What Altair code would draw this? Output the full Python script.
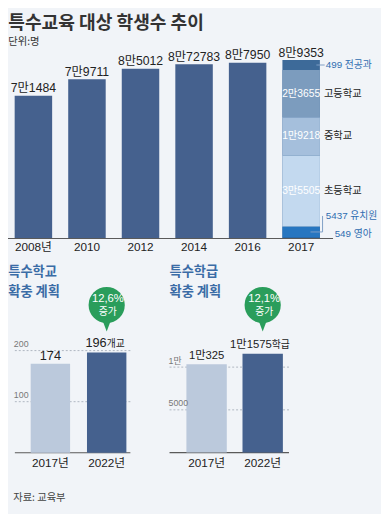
import altair as alt
import pandas as pd

# ---------------- data ----------------
years = ["2008", "2010", "2012", "2014", "2016", "2017"]
year_labels = ["2008년", "2010", "2012", "2014", "2016", "2017"]
totals = [71484, 79711, 85012, 87278, 87950, 89353]
total_labels = ["7만1484", "7만9711", "8만5012", "8만72783", "8만7950", "8만9353"]

seg_names = ["영아", "유치원", "초등학교", "중학교", "고등학교", "전공과"]
seg_values = [549, 5437, 35505, 19218, 23655, 499]
seg_value_labels = ["549", "5437", "3만5505", "1만9218", "2만3655", "499"]
inner_names = ["초등학교", "중학교", "고등학교"]

plan_years = ["2017", "2022"]
plan_year_labels = ["2017년", "2022년"]

schools = [174, 196]
school_labels = ["174", "196"]
school_unit = "개교"
school_growth = "12,6%"
school_ticks = [100, 200]
school_tick_labels = ["100", "200"]

classes = [10325, 11575]
class_labels = ["1만325", "1만1575"]
class_unit = "학급"
class_growth = "12,1%"
class_ticks = [5000, 10000]
class_tick_labels = ["5000", "1만"]

# ---------------- style ----------------
FONT_N = "Liberation Sans Narrow, Liberation Sans, Noto Sans CJK KR, sans-serif"
FONT_K = "Noto Sans CJK KR, sans-serif"
BG = "#f1f4f8"
C_BAR = "#45618e"
C_MAJOR = "#3d6a99"
SEG_COLORS = ["#1d4f8c", "#2776c0", "#c3d9ef", "#a5bfdc", "#7c9cbe", "#3d6a99"]
C_LIGHT = "#bbc9dc"
C_GREEN = "#2a9d5b"
C_BLUE_TXT = "#2f6db0"
C_TITLE2 = "#3b6ca6"
C_TXT = "#222222"
C_LEAD = "#7f9fc6"

# ---------------- top chart ----------------
sx_top = alt.Scale(domain=years, range=[-1.4, 326.8], paddingInner=0.3, paddingOuter=0.15)
sy_top = alt.Scale(domain=[0, 100000], range=[230, 26], nice=False, zero=True)
Xt = alt.X("yr:N", scale=sx_top, axis=None)


def Yt(f):
    return alt.Y(f"{f}:Q", scale=sy_top, axis=None)


df_top = pd.DataFrame({"yr": years, "lab": year_labels, "v": totals, "t": total_labels})

seg_df = pd.DataFrame({"seg": seg_names, "v": seg_values, "t": seg_value_labels})
seg_df["yr"] = "2017"
seg_df["hi"] = seg_df["v"].cumsum()
seg_df["lo"] = seg_df["hi"] - seg_df["v"]
seg_df["mid"] = (seg_df["lo"] + seg_df["hi"]) / 2
seg_df["ann"] = seg_df["t"] + " " + seg_df["seg"]

major_df = pd.DataFrame({
    "yr": ["2017"],
    "mid": [(seg_df["hi"].iloc[4] + totals[-1]) / 2],
    "ann": [f"{seg_value_labels[5]} {seg_names[5]}"],
})

top_base = alt.Chart(pd.DataFrame({"v": [0]})).mark_rule(color="#5a5a5a", strokeWidth=1.2).encode(
    y=Yt("v"), x=alt.value(0), x2=alt.value(332))
top_bars = alt.Chart(df_top).mark_bar().encode(
    x=Xt, y=Yt("v"),
    color=alt.condition("datum.yr == '2017'", alt.value(C_MAJOR), alt.value(C_BAR)))
seg_bars = alt.Chart(seg_df).transform_filter(
    alt.FieldOneOfPredicate(field="seg", oneOf=seg_names[:5])
).mark_bar().encode(
    x=Xt, y=Yt("lo"), y2="hi:Q",
    color=alt.Color("seg:N", scale=alt.Scale(domain=seg_names, range=SEG_COLORS), legend=None))
top_vals = alt.Chart(df_top).mark_text(font=FONT_N, fontSize=12.5, baseline="alphabetic", dy=-3.5,
                                       color=C_TXT).encode(x=Xt, y=Yt("v"), text="t:N")
top_xlab = alt.Chart(df_top).mark_text(font=FONT_N, fontSize=12, baseline="middle", color=C_TXT).encode(
    x=Xt, y=alt.value(238.7), text="lab:N")
inner = alt.Chart(seg_df).transform_filter(alt.FieldOneOfPredicate(field="seg", oneOf=inner_names))
seg_in = inner.mark_text(font=FONT_N, fontSize=10.5, color="#ffffff", baseline="middle").encode(
    x=Xt, y=Yt("mid"), text="t:N")
seg_nm = inner.mark_text(font=FONT_K, fontSize=10.5, align="left", dx=23.2, baseline="middle",
                         color=C_TXT).encode(x=Xt, y=Yt("mid"), text="seg:N")

ann_major = alt.Chart(major_df).mark_text(font=FONT_N, fontSize=10, align="left", dx=25.2, baseline="middle",
                                          color=C_BLUE_TXT).encode(x=Xt, y=Yt("mid"), text="ann:N")
lead_major = alt.Chart(major_df).mark_rule(color=C_LEAD, strokeWidth=1).encode(
    y=Yt("mid"), x=alt.value(315), x2=alt.value(323.5))
kinder = alt.Chart(seg_df).transform_filter(alt.FieldEqualPredicate(field="seg", equal="유치원"))
ann_kinder = kinder.mark_text(font=FONT_N, fontSize=10, align="left", dx=25.2, dy=-16.3, baseline="middle",
                              color=C_BLUE_TXT).encode(x=Xt, y=Yt("mid"), text="ann:N")
lead_kinder_h = kinder.mark_rule(color=C_LEAD, strokeWidth=1).encode(
    y=Yt("mid"), x=alt.value(309), x2=alt.value(321.3))
lead_kinder_v = kinder.mark_rule(color=C_LEAD, strokeWidth=1).encode(
    y=Yt("mid"), y2=alt.value(207), x=alt.value(321.3))
infant = alt.Chart(seg_df).transform_filter(alt.FieldEqualPredicate(field="seg", equal="영아"))
ann_infant = infant.mark_text(font=FONT_N, fontSize=10, align="left", dx=34.2, dy=-4, baseline="middle",
                              color=C_BLUE_TXT).encode(x=Xt, y=Yt("mid"), text="ann:N")

top = alt.layer(top_bars, seg_bars, top_base, top_vals, top_xlab, seg_in, seg_nm,
                lead_major, ann_major, lead_kinder_h, lead_kinder_v, ann_kinder, ann_infant)


# ---------------- bottom panels ----------------
def plan_panel(values, labels, unit, growth, ticks, tick_labels, x_range, pin, pout,
               y_domain, y_range, gx0, gx1, bx1, val_size, dy_a, dy_b, split_dx, bub_dx):
    df = pd.DataFrame({"yr": plan_years, "lab": plan_year_labels, "v": values, "t": labels})
    df["u"] = unit
    X = alt.X("yr:N", scale=alt.Scale(domain=plan_years, range=x_range, paddingInner=pin, paddingOuter=pout),
              axis=None)
    sy = alt.Scale(domain=y_domain, range=y_range, nice=False, zero=True)
    Y = alt.Y("v:Q", scale=sy, axis=None)
    gdf = pd.DataFrame({"v": ticks, "t": tick_labels})
    grid = alt.Chart(gdf).mark_rule(color="#9ea7b2", strokeWidth=0.8, strokeDash=[2, 2]).encode(
        y=Y, x=alt.value(gx0), x2=alt.value(gx1))
    glab = alt.Chart(gdf).mark_text(font=FONT_N, fontSize=9, align="left", baseline="alphabetic", dy=-3.5,
                                    color="#777777").encode(y=Y, x=alt.value(gx0 - 1), text="t:N")
    base = alt.Chart(pd.DataFrame({"v": [0]})).mark_rule(color="#5a5a5a", strokeWidth=1.2).encode(
        y=Y, x=alt.value(gx0), x2=alt.value(bx1))
    bars = alt.Chart(df).mark_bar().encode(
        x=X, y=Y, color=alt.condition("datum.yr == '2022'", alt.value(C_BAR), alt.value(C_LIGHT)))
    xlab = alt.Chart(df).mark_text(font=FONT_N, fontSize=12, baseline="middle", color=C_TXT).encode(
        x=X, y=alt.value(459.5), text="lab:N")
    first = alt.Chart(df).transform_filter(alt.FieldEqualPredicate(field="yr", equal=plan_years[0]))
    last = alt.Chart(df).transform_filter(alt.FieldEqualPredicate(field="yr", equal=plan_years[1]))
    v_a = first.mark_text(font=FONT_N, fontSize=val_size, baseline="alphabetic", dy=dy_a,
                          color=C_TXT).encode(x=X, y=Y, text="t:N")
    v_b = last.mark_text(font=FONT_N, fontSize=val_size, baseline="alphabetic", dy=dy_b, align="right",
                         dx=split_dx, color=C_TXT).encode(x=X, y=Y, text="t:N")
    v_u = last.mark_text(font=FONT_K, fontSize=10, baseline="alphabetic", dy=dy_b, align="left",
                         dx=split_dx, color=C_TXT).encode(x=X, y=Y, text="u:N")
    bub = last.mark_point(shape="circle", filled=True, size=1369, color=C_GREEN, opacity=1,
                          strokeWidth=0, dx=bub_dx).encode(x=X, y=alt.value(298))
    ptr = last.mark_point(shape="M-0.75,-1L0.75,-1L0,1Z", filled=True, size=196, color=C_GREEN, opacity=1,
                          strokeWidth=0, dx=bub_dx).encode(x=X, y=alt.value(318))
    g1 = last.mark_text(text=growth, font=FONT_N, fontSize=11.5, color="white", baseline="middle",
                        dx=bub_dx).encode(x=X, y=alt.value(291.5))
    g2 = last.mark_text(text="증가", font=FONT_K, fontSize=10, color="white", baseline="middle",
                        dx=bub_dx).encode(x=X, y=alt.value(305))
    return alt.layer(grid, base, bars, glab, xlab, v_a, v_b, v_u, bub, ptr, g1, g2)


left = plan_panel(schools, school_labels, school_unit, school_growth, school_ticks, school_tick_labels,
                  [14.55, 129.55], 0.3, 0.15, [0, 200], [448.9, 344.5], 7, 127, 125,
                  13, -4.3, -6, 0, 1.2)
right = plan_panel(classes, class_labels, class_unit, class_growth, class_ticks, class_tick_labels,
                   [174.2, 288.8], 0.28, 0.14, [0, 10000], [448.7, 361.4], 165, 287, 287,
                   11.5, -5, -5.7, 9.2, 1.5)

# ---------------- titles / notes ----------------
one = pd.DataFrame({"a": [0]})


def txt(text, x, y, size, color, font=FONT_K, weight="normal"):
    return alt.Chart(one).mark_text(text=text, font=font, fontSize=size, fontWeight=weight, color=color,
                                    align="left", baseline="middle").encode(x=alt.value(x), y=alt.value(y))


deco = alt.layer(
    txt("특수교육 대상 학생수 추이", 0.3, 10.3, 18.5, "#333333", weight="bold"),
    txt("단위:명", 0.3, 29.5, 10.5, "#333333"),
    txt("특수학교", 0.3, 264.8, 13.5, C_TITLE2, weight="bold"),
    txt("확충 계획", 0.3, 284.8, 13.5, C_TITLE2, weight="bold"),
    txt("특수학급", 165, 264.8, 13.5, C_TITLE2, weight="bold"),
    txt("확충 계획", 165, 284.8, 13.5, C_TITLE2, weight="bold"),
    txt("자료: 교육부", 5.3, 495, 10.5, "#444444"),
)

chart = alt.layer(top, left, right, deco).resolve_scale(
    x="independent", y="independent", color="independent"
).properties(
    width=381, height=506, background=BG, padding=0,
    autosize=alt.AutoSizeParams(type="none"),
).configure_view(stroke=None)

chart.save("out.html", embed_options={"renderer": "svg", "actions": False})
